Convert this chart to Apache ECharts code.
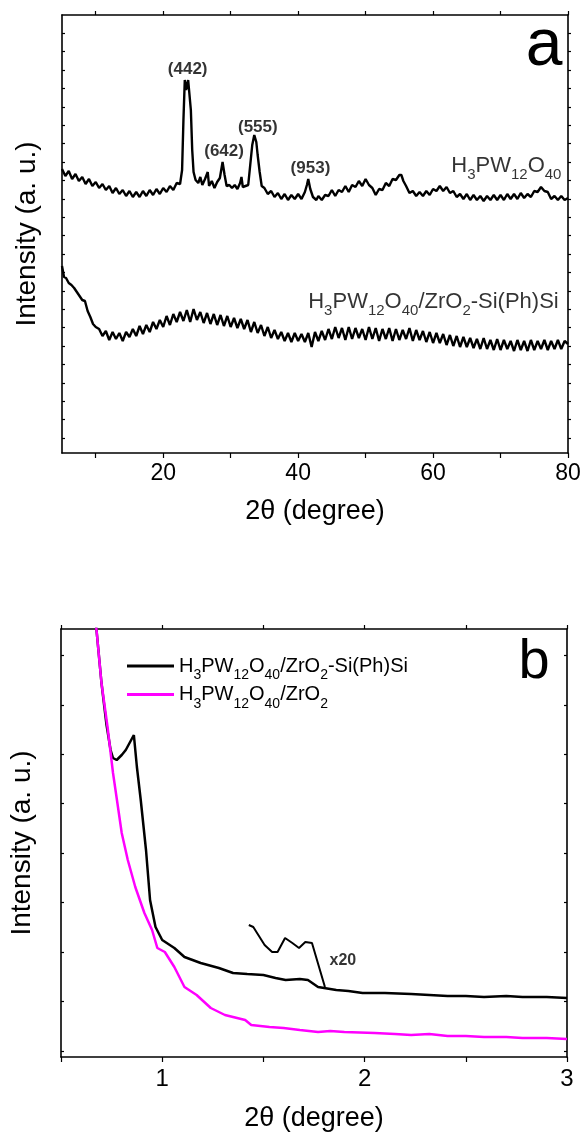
<!DOCTYPE html>
<html><head><meta charset="utf-8">
<script src="https://cdn.jsdelivr.net/npm/echarts@6/dist/echarts.min.js"></script>
<style>html,body{margin:0;padding:0;background:#fff}#c{width:584px;height:1135px}</style>
</head><body><div id="c"></div>
<script>
// ---------- Panel a : wide-angle XRD ----------
const pwAngle = [5,5.5,6,6.5,7,7.5,8,8.5,9,9.5,10,10.5,11,11.5,12,12.5,13,13.5,14,14.5,15,15.5,16,16.5,17,17.5,18,18.5,19,19.5,20,20.5,21,21.5,22,22.5,
  22.8,23.0,23.2,23.4,23.5,23.7,23.9,24.1,24.3,24.5,24.8,
  25.2,25.5,25.8,26.2,26.6,26.8,27.2,27.6,28,28.4,28.8,29.1,29.4,29.8,30.2,30.6,31,31.4,31.6,31.8,32.2,32.6,32.9,33.2,33.5,33.8,34.0,34.3,34.6,
  35,35.5,36,36.5,37,37.5,38,38.5,39,39.5,40,40.5,41,
  41.3,41.5,41.8,42.2,42.7,
  43,43.5,44,44.5,45,45.5,46,46.5,47,47.5,48,48.5,49,49.5,50,50.5,51,51.5,52,52.5,53,53.5,54,54.5,55,
  55.3,55.6,
  56,56.5,57,57.5,58,58.5,59,59.5,60,60.5,61,61.5,62,62.5,63,63.5,64,64.5,65,65.5,66,66.5,67,67.5,68,68.5,69,69.5,70,70.5,71,71.5,72,72.5,73,73.5,74,74.5,75,75.5,76,76.5,77,77.5,78,78.5,79,79.5,80];
const pwIntensity = [284,277,282,274,279,272,276,269,274,267,271,265,269,263,267,260,265,259,263,257,262,256,261,256,262,257,263,258,264,259,265,261,267,263,270,269,
  283,333,373,363,367,373,371,343,303,281,273,
  270,276,268,274,281,267,272,265,271,275,291,278,267,268,265,268,264,270,276,266,267,268,288,308,318,311,298,281,267,
  265,259,262,256,260,254,259,253,258,254,259,254,261,
  268,274,264,256,253,
  257,253,258,257,263,257,263,261,267,261,268,266,272,267,274,268,265,258,264,263,270,267,274,273,278,
  278,272,
  267,260,262,257,261,257,262,258,264,262,267,262,266,260,262,256,259,254,259,253,258,253,257,252,257,253,258,253,258,253,259,254,259,254,260,255,259,256,262,261,266,262,261,254,257,253,257,253,255];

const compAngle = [5.0,5.3,5.6,6.0,6.4,6.8,7.2,7.6,8.0,8.4,8.8,9.2,9.6,10.0,
  10.5,11,11.5,12,12.5,13,13.5,14,14.5,15,15.5,16,16.5,17,17.5,18,18.5,19,19.5,20,20.5,21,21.5,22,22.5,23,23.5,24,24.5,25,
  25.5,26,26.5,27,27.5,28,28.5,29,29.5,30,30.5,31,31.5,32,32.5,33,33.5,34,34.5,35,35.5,36,36.5,37,37.5,38,38.5,39,39.5,40,
  40.5,41,41.5,42,42.5,43,43.5,44,44.5,45,45.5,46,46.5,47,47.5,48,48.5,49,49.5,50,50.5,51,51.5,52,52.5,53,53.5,54,54.5,55,
  55.5,56,56.5,57,57.5,58,58.5,59,59.5,60,60.5,61,61.5,62,62.5,63,63.5,64,64.5,65,65.5,66,66.5,67,67.5,68,68.5,69,69.5,70,
  70.5,71,71.5,72,72.5,73,73.5,74,74.5,75,75.5,76,76.5,77,77.5,78,78.5,79,79.5,80];
const compIntensity = [187,176,175,170,168,165,161,157,153,152,142,136,129,126,
  124,117,122,113,121,114,120,112,121,116,124,117,127,119,128,121,131,124,133,126,137,128,139,131,141,132,143,131,144,133,
  141,130,140,129,139,128,138,127,137,126,135,125,134,124,133,121,131,120,128,117,126,115,123,114,121,112,120,111,120,112,
  119,111,120,106,121,112,122,113,124,114,126,115,125,113,126,114,125,115,124,113,126,114,125,112,124,114,125,112,124,113,
  123,114,125,112,123,113,122,111,121,110,120,110,119,108,118,107,117,106,116,106,115,105,114,104,115,104,113,103,114,103,
  113,104,112,102,113,103,112,102,113,103,112,104,113,103,112,104,113,104,112,109];

const topXTicks = [10,20,30,40,50,60,70,80];
const topXLabels = [20,40,60,80];
const topYTicks = [15,33.4,51.8,70.2,88.6,107,125.4,143.8,162.2,180.6,199,217.4,235.8,254.2,272.6,291,309.4,327.8,346.2,364.6,383,401.4,419.8];

const peakLabels = ['(442)','(642)','(555)','(953)'];
const peakLabelAngle = [23.7,29.1,34.1,41.9];
const peakLabelIntensity = [383,301,325,284];

const sampleA = 'H3PW12O40';
const sampleB = 'H3PW12O40/ZrO2-Si(Ph)Si';
const sampleC = 'H3PW12O40/ZrO2';
const nameLabelAngle = [79.1, 78.7];
const nameLabelIntensity = [287, 151];

// ---------- Panel b : small-angle XRD ----------
const saxsAngleB = [0.66,0.675,0.70,0.725,0.745,0.757,0.775,0.80,0.82,0.86,0.875,0.894,0.92,0.94,0.967,1.0,1.06,1.11,1.19,1.28,1.35,1.42,1.50,1.56,1.61,1.68,1.72,1.77,1.86,1.92,1.99,2.1,2.23,2.32,2.41,2.5,2.59,2.7,2.78,2.9,3.0];
const saxsIntensityB = [457,428,374,332,307,299,297,302,307,322,290,257,207,157,130,117,109,100,94,89,84,83,82,79,77,78,77,70,67,66,64,64,63,62,61,61,60,61,60,60,59];
const saxsAngleC = [0.66,0.675,0.70,0.73,0.757,0.78,0.80,0.83,0.867,0.912,0.95,0.976,1.013,1.06,1.11,1.17,1.24,1.31,1.41,1.44,1.53,1.6,1.68,1.77,1.83,1.9,2.05,2.15,2.23,2.32,2.41,2.5,2.59,2.7,2.78,2.9,3.0];
const saxsIntensityC = [457,428,374,330,284,252,224,197,170,144,127,109,105,90,70,62,49,42,37,32,30,29,27,25,26,25,24,23,22,23,21,21,20,20,19,19,18];
const insetAngle = [1.428,1.45,1.506,1.543,1.57,1.607,1.643,1.676,1.707,1.74,1.804];
const insetIntensity = [132,130,112,105,105,119,114,109,115,114,70];
const insetLabel = 'x20';
const insetLabelPos = [1.895, 96];

const botXTicks = [0.5,1,1.5,2,2.5,3];
const botXLabels = [1,2,3];
const botYTicks = [6,56,105,155,204,254,303,352,402];

// ---------- chart ----------
const FONT = 'Liberation Sans, Arial, Helvetica, sans-serif';
const zip = (a, b) => a.map((v, i) => [v, b[i]]);
const chem = s => s.replace(/(\d+)/g, '{s|$1}');
const subStyle = (size, shift) => ({ s: { fontSize: size, fontFamily: FONT, color: '#000', padding: [shift, 0, 0, 0] } });
const line = { show: true, onZero: false, lineStyle: { color: '#000', width: 1.6 } };
const tick = (vals, len, inside) => ({ show: true, customValues: vals, length: len, inside: inside, lineStyle: { color: '#000', width: 1.2 } });
const noLabel = { show: false };
const noSplit = { show: false };
const textLabel = (size, bold) => ({ show: true, position: [0, 0], align: 'center', verticalAlign: 'middle',
  formatter: p => p.name, fontSize: size, fontWeight: bold ? 'bold' : 'normal', color: '#000', fontFamily: FONT });

const chart = echarts.init(document.getElementById('c'));
chart.setOption({
  animation: false,
  backgroundColor: '#fff',
  textStyle: { fontFamily: FONT, color: '#000' },
  grid: [
    { left: 62, top: 15, width: 506, height: 438 },
    { left: 57, top: 629, width: 510, height: 428 }
  ],
  xAxis: [
    { gridIndex: 0, type: 'value', min: 5, max: 80, position: 'bottom', axisLine: line,
      axisTick: tick(topXTicks, 5, false),
      axisLabel: { show: true, customValues: topXLabels, fontSize: 23, color: '#000', fontFamily: FONT, margin: 9 },
      splitLine: noSplit, name: '2θ (degree)', nameLocation: 'middle', nameGap: 45,
      nameTextStyle: { fontSize: 27, color: '#000', fontFamily: FONT } },
    { gridIndex: 0, type: 'value', min: 5, max: 80, position: 'top', axisLine: line,
      axisTick: tick(topXTicks, 4, false), axisLabel: noLabel, splitLine: noSplit },
    { gridIndex: 1, type: 'value', min: 0.5, max: 3, position: 'bottom', axisLine: line,
      axisTick: tick(botXTicks, 5, false),
      axisLabel: { show: true, customValues: botXLabels, fontSize: 24, color: '#000', fontFamily: FONT, margin: 10 },
      splitLine: noSplit, name: '2θ (degree)', nameLocation: 'middle', nameGap: 48,
      nameTextStyle: { fontSize: 27, color: '#000', fontFamily: FONT } },
    { gridIndex: 1, type: 'value', min: 0.5, max: 3, position: 'top', axisLine: line,
      axisTick: tick(botXTicks, 4, false), axisLabel: noLabel, splitLine: noSplit }
  ],
  yAxis: [
    { gridIndex: 0, type: 'value', min: 0, max: 438, position: 'left', axisLine: line,
      axisTick: tick(topYTicks, 3, true), axisLabel: noLabel, splitLine: noSplit,
      name: 'Intensity (a. u.)', nameLocation: 'middle', nameGap: 21,
      nameTextStyle: { fontSize: 28, color: '#000', fontFamily: FONT } },
    { gridIndex: 0, type: 'value', min: 0, max: 438, position: 'right', axisLine: line,
      axisTick: tick(topYTicks, 3, false), axisLabel: noLabel, splitLine: noSplit },
    { gridIndex: 1, type: 'value', min: 0, max: 428, position: 'left', axisLine: line,
      axisTick: tick(botYTicks, 3, true), axisLabel: noLabel, splitLine: noSplit,
      name: 'Intensity (a. u.)', nameLocation: 'middle', nameGap: 25,
      nameTextStyle: { fontSize: 28, color: '#000', fontFamily: FONT } },
    { gridIndex: 1, type: 'value', min: 0, max: 428, position: 'right', axisLine: line,
      axisTick: tick(botYTicks, 3, true), axisLabel: noLabel, splitLine: noSplit }
  ],
  legend: {
    data: [sampleB, sampleC], orient: 'vertical', left: 122, top: 651,
    itemWidth: 47, itemHeight: 14, itemGap: 2, icon: 'path://M0,5.5L47,5.5L47,8.5L0,8.5Z',
    formatter: chem,
    textStyle: { fontSize: 20, fontFamily: FONT, color: '#000', rich: subStyle(14, 19) }
  },
  graphic: [
    { type: 'text', x: 544, y: 47, style: { text: 'a', fontSize: 66, fontFamily: FONT, fill: '#000', align: 'center', verticalAlign: 'middle' } },
    { type: 'text', x: 534, y: 663, style: { text: 'b', fontSize: 56, fontFamily: FONT, fill: '#000', align: 'center', verticalAlign: 'middle' } }
  ],
  series: [
    { type: 'line', name: sampleA, xAxisIndex: 0, yAxisIndex: 0, data: zip(pwAngle, pwIntensity),
      symbol: 'none', lineStyle: { color: '#000', width: 2.4 } },
    { type: 'line', name: sampleB + ' (a)', xAxisIndex: 0, yAxisIndex: 0, data: zip(compAngle, compIntensity),
      symbol: 'none', lineStyle: { color: '#000', width: 2.4 } },
    { type: 'scatter', name: 'peaks', xAxisIndex: 0, yAxisIndex: 0, symbolSize: 1,
      itemStyle: { color: 'rgba(0,0,0,0)' },
      data: peakLabels.map((t, i) => ({ name: t, value: [peakLabelAngle[i], peakLabelIntensity[i]] })),
      label: textLabel(17, true) },
    { type: 'scatter', name: 'sample names', xAxisIndex: 0, yAxisIndex: 0, symbolSize: 1,
      itemStyle: { color: 'rgba(0,0,0,0)' },
      data: [sampleA, sampleB].map((t, i) => ({ name: t, value: [nameLabelAngle[i], nameLabelIntensity[i]] })),
      label: { show: true, position: 'left', distance: 0, formatter: p => chem(p.name), fontSize: 22, color: '#000', fontFamily: FONT, rich: subStyle(15, 18) } },
    { type: 'line', name: sampleB, xAxisIndex: 2, yAxisIndex: 2, data: zip(saxsAngleB, saxsIntensityB),
      symbol: 'none', lineStyle: { color: '#000', width: 2.5 }, itemStyle: { color: '#000' } },
    { type: 'line', name: sampleC, xAxisIndex: 2, yAxisIndex: 2, data: zip(saxsAngleC, saxsIntensityC),
      symbol: 'none', lineStyle: { color: '#ff00ff', width: 2.5 }, itemStyle: { color: '#ff00ff' } },
    { type: 'line', name: 'x20 inset', xAxisIndex: 2, yAxisIndex: 2, data: zip(insetAngle, insetIntensity),
      symbol: 'none', lineStyle: { color: '#000', width: 2 } },
    { type: 'scatter', name: 'x20 label', xAxisIndex: 2, yAxisIndex: 2, symbolSize: 1,
      itemStyle: { color: 'rgba(0,0,0,0)' },
      data: [{ name: insetLabel, value: insetLabelPos }],
      label: textLabel(16, true) }
  ]
});
</script>
</body></html>
